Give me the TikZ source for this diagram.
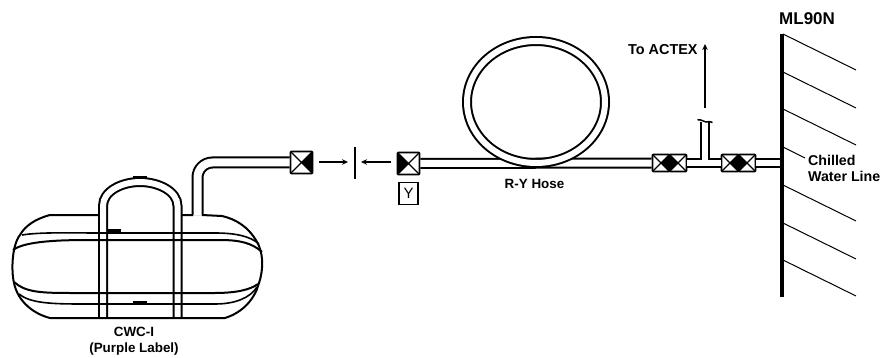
\documentclass[tikz,border=0pt]{standalone}
\usepackage{fontspec}
\setmainfont{Liberation Sans}
\usetikzlibrary{arrows.meta}
\tikzset{
  pipe/.style={line width=2pt,double=white,double distance=#1},
  outline/.style={line width=2pt,line join=round},
  flow/.style={line width=1.3pt,-{Stealth[length=6pt,width=5.5pt]}},
  hatch/.style={line width=1pt},
  label/.style={font=\fontsize{13.4}{15.5}\selectfont\bfseries,inner sep=0pt,align=center},
  valvebase/.style={draw,line width=1.8pt,rounded corners=1pt,inner sep=0pt,fill=white},
  valveL/.style={valvebase,minimum width=#1,minimum height=#1,path picture={
     \fill[black] (path picture bounding box.north west)--(path picture bounding box.center)--(path picture bounding box.south west)--cycle;
     \draw[line width=1.2pt] (path picture bounding box.north west)--(path picture bounding box.south east)
       (path picture bounding box.south west)--(path picture bounding box.north east);}},
  valveR/.style={valvebase,minimum width=#1,minimum height=#1,path picture={
     \fill[black] (path picture bounding box.north east)--(path picture bounding box.center)--(path picture bounding box.south east)--cycle;
     \draw[line width=1.2pt] (path picture bounding box.north west)--(path picture bounding box.south east)
       (path picture bounding box.south west)--(path picture bounding box.north east);}},
}
\begin{document}
\begin{tikzpicture}[x=1pt,y=-1pt]
\useasboundingbox[fill=white] (0,0) rectangle (883,358);

% valves
\node[valveR=22pt] (v1) at (301.5,162.5) {};
\node[valveL=22pt] (v2) at (408.5,163.5) {};
\node[valveR=17pt] (v3a) at (661,163) {};
\node[valveL=17pt] (v3b) at (678,163) {};
\node[valveR=17pt] (v4a) at (730,163) {};
\node[valveL=17pt] (v4b) at (747,163) {};
\node[draw,line width=1.3pt,minimum width=19pt,minimum height=22pt,inner sep=0pt,font=\fontsize{15}{15}\selectfont] (ybox) at (408.5,193.5) {Y};

% tank outline
\coordinate (tankport) at (197.5,215);
\draw[outline] (99,215) -- (50,215) .. controls (35,219) and (25,226) .. (20,235)
   .. controls (12,245) and (11,270) .. (14,283) .. controls (18,302) and (34,314) .. (50,318)
   -- (225,318) .. controls (244,312) and (255,298) .. (259,283)
   .. controls (264,268) and (263,252) .. (257,242) .. controls (248,226) and (235,219) .. (222,216)
   -- (202,215) (193,215) -- (182,215);

% U tube
\coordinate (ua) at (103,318);
\coordinate (ub) at (177.5,318);
\draw[pipe=6pt] (ua) -- (103,206) .. controls (103,191) and (122,182) .. (140,182)
   .. controls (158,182) and (177.5,191) .. (177.5,206) -- (ub);
\draw[line width=3pt] (133,177.5) -- (147,177.5);
\draw[outline] (50,318) -- (225,318);

% bands
\draw[line width=1.6pt] (22,235) .. controls (40,232) and (70,233) .. (100,233) -- (215,233) .. controls (235,233) and (250,236) .. (259,244);
\draw[line width=2pt] (13,250) .. controls (25,241) and (60,240) .. (90,240) -- (220,240) .. controls (240,240) and (252,243) .. (262,252);
\draw[line width=2pt] (14,282) .. controls (25,292) and (40,293) .. (70,293) -- (215,293) .. controls (235,293) and (250,290) .. (258,284);
\draw[line width=1.6pt] (19,294) .. controls (30,303) and (50,304) .. (82,304) -- (215,304) .. controls (235,304) and (250,298) .. (257,287);
\draw[line width=3pt] (107,230) -- (121,230) (133,302.5) -- (147,302.5);

% pipe from tank to valve
\draw[pipe=8pt,rounded corners=15pt] (tankport) |- (v1.west);

% disconnected ends
\coordinate (bartop) at (355,147);
\coordinate (barbot) at (355,179);
\coordinate (arrL) at (319,162);
\coordinate (arrLend) at (348,162);
\coordinate (arrR) at (391,162);
\coordinate (arrRend) at (361,162);
\draw[line width=1.5pt] (bartop) -- (barbot);
\draw[flow] (arrL) -- (arrLend);
\draw[flow] (arrR) -- (arrRend);

% hose and loop
\draw[pipe=7pt] (v2.east) -- (v3a.west);
\draw[pipe=6pt] (536,102) ellipse (69pt and 61pt);

% tee and valves
\draw[pipe=6pt] (v3b.east) -- (v4a.west);
\coordinate (teebase) at (705,160);
\coordinate (teetop) at (705,122);
\draw[pipe=6.5pt] (teebase) -- (teetop);
\draw[line width=1.5pt] (697.5,120) .. controls (702,119) and (703,122) .. (706,122) .. controls (708,122) and (709,121) .. (712.5,122.5);

\coordinate (actexfrom) at (705,108);
\coordinate (actexto) at (705,44);
\draw[flow] (actexfrom) -- (actexto);

% wall
\coordinate (walltop) at (782,34);
\coordinate (wallbot) at (782,297);
\draw[pipe=6pt] (v4b.east) -- (780,163);
\foreach \y in {34,72,109,185,223,260}
  \draw[hatch] (783,\y) -- (856,\y+36);
\draw[hatch] (783,147) -- (805,158);
\draw[line width=3.5pt] (walltop) -- (wallbot);

% labels
\node[label,anchor=west,font=\fontsize{17}{18}\selectfont\bfseries] (ml) at (779,19) {ML90N};
\node[label,anchor=west,font=\fontsize{14.4}{16}\selectfont\bfseries] (actex) at (628,50) {To ACTEX};
\node[label,anchor=north west,align=left,font=\fontsize{14.2}{16}\selectfont\bfseries] (chilled) at (808,155) {Chilled\\Water Line};
\node[label] (hose) at (534.5,184) {R-Y Hose};
\node[label] (cwc) at (134,341) {CWC-I\\(Purple Label)};
\end{tikzpicture}
\end{document}
